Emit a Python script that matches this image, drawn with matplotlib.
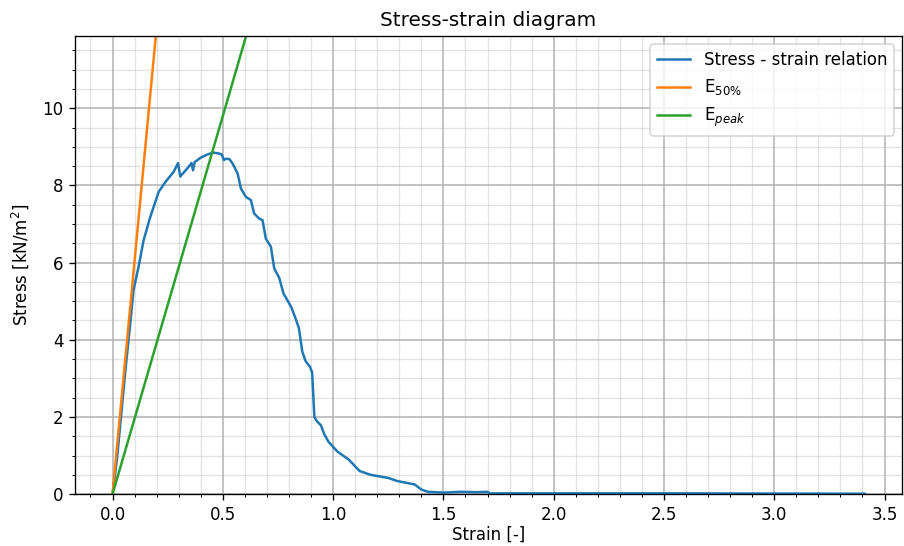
import numpy as np
import matplotlib
matplotlib.use("Agg")
import matplotlib.pyplot as plt

# strain / stress
strain = [0.0, 0.02, 0.04, 0.06, 0.08, 0.095, 0.118, 0.141, 0.171, 0.209,
          0.24, 0.277, 0.297, 0.307, 0.345, 0.358, 0.365, 0.372,
          0.40, 0.43, 0.455, 0.48, 0.495, 0.505, 0.514, 0.53, 0.544, 0.567,
          0.582, 0.605, 0.627, 0.642, 0.665, 0.68, 0.695, 0.718,
          0.733, 0.756, 0.775, 0.79, 0.81, 0.83, 0.845, 0.86,
          0.875, 0.895, 0.905, 0.915, 0.925, 0.945, 0.96, 0.98, 1.02, 1.07,
          1.10, 1.12, 1.17, 1.25, 1.29, 1.37, 1.40, 1.43, 1.50, 1.58, 1.65,
          1.70, 1.71, 2.0, 2.5, 3.0, 3.41]
stress = [0.0, 0.9, 2.1, 3.3, 4.4, 5.28, 5.89, 6.58, 7.18, 7.83,
          8.09, 8.35, 8.58, 8.23, 8.48, 8.58, 8.39, 8.6,
          8.72, 8.8, 8.85, 8.83, 8.8, 8.66, 8.69, 8.68, 8.57, 8.31,
          7.92, 7.70, 7.62, 7.27, 7.14, 7.1, 6.62, 6.41,
          5.85, 5.6, 5.2, 5.05, 4.85, 4.55, 4.3, 3.7,
          3.45, 3.3, 3.15, 2.0, 1.9, 1.78, 1.55, 1.35, 1.1, 0.9,
          0.72, 0.6, 0.5, 0.42, 0.34, 0.25, 0.12, 0.06, 0.04, 0.06, 0.05,
          0.06, 0.02, 0.02, 0.02, 0.015, 0.01]

E50 = 60.5
Epeak = 19.6
eps_line = np.array([0.0, 0.7])

fig, ax = plt.subplots(figsize=(904 / 120, 546 / 120), dpi=120)
fig.subplots_adjust(left=0.083, right=0.998, bottom=0.095, top=0.934)

ax.plot(strain, stress, label="Stress - strain relation")
ax.plot(eps_line, E50 * eps_line, label=r"E$_{50\%}$")
ax.plot(eps_line, Epeak * eps_line, label=r"E$_{peak}$")

ax.set_xlim(-0.17, 3.58)
ax.set_ylim(0, 11.87)
ax.minorticks_on()
ax.grid(which="major", color="#b0b0b0", linewidth=0.9)
ax.grid(which="minor", color="#b0b0b0", alpha=0.35, linewidth=0.8)
ax.set_xlabel("Strain [-]", labelpad=1)
ax.set_ylabel("Stress [kN/m$^2$]", labelpad=7)
ax.set_title("Stress-strain diagram")
ax.legend(loc="upper right")

plt.savefig("out.png")
